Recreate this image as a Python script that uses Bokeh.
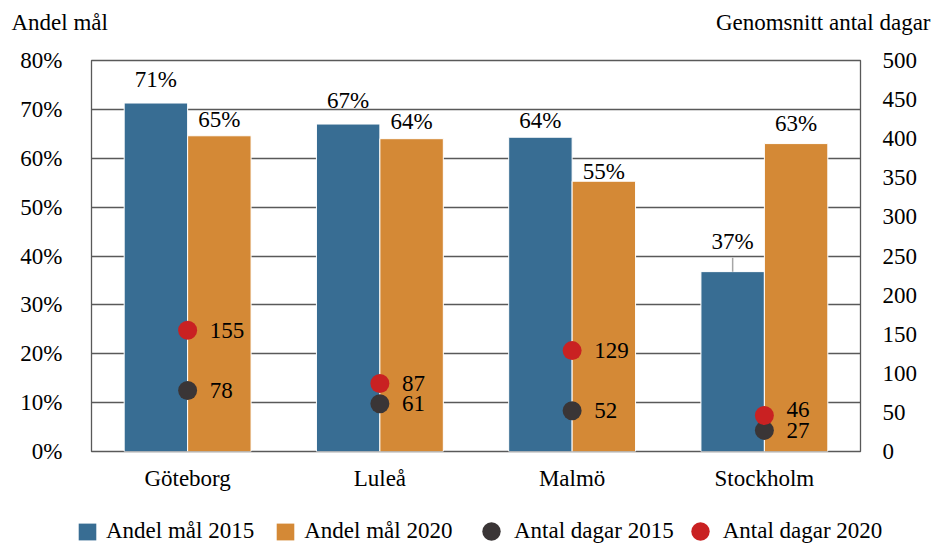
import math
from bokeh.plotting import figure
from bokeh.layouts import column
from bokeh.models import (ColumnDataSource, FactorRange, Range1d, LinearAxis, Legend, LegendItem,
                          Label, FixedTicker, PrintfTickFormatter, CDSView, IndexFilter)
from bokeh.transform import dodge
from bokeh.core.properties import value
from bokeh.embed import file_html
from bokeh.resources import INLINE

# ---- data ----
cities = ["Göteborg", "Luleå", "Malmö", "Stockholm"]
andel_2015 = [71.3, 67.0, 64.3, 36.8]
andel_2020 = [64.6, 64.0, 55.3, 63.0]
dagar_2015 = [78, 61, 52, 27]
dagar_2020 = [155, 87, 129, 46]
left_ticks = [0, 10, 20, 30, 40, 50, 60, 70, 80]
right_ticks = [0, 50, 100, 150, 200, 250, 300, 350, 400, 450, 500]
series_names = ["Andel mål 2015", "Andel mål 2020", "Antal dagar 2015", "Antal dagar 2020"]
left_title = "Andel mål"
right_title = "Genomsnitt antal dagar"

# ---- styles ----
FONT = "Liberation Serif"
FS = "23px"
BLUE = "#386d93"
ORANGE = "#d48936"
DARK = "#3a3536"
RED = "#c92122"
GRID = "#595959"
WIDTH = 935
label_dy_2015 = [-24, -24, -17, -30]
label_dy_2020 = [-16, -17, -10, -20]
day_dy_2015 = [0, 0, 0, 0]
day_dy_2020 = [0, 0, 0, -6]


def bare_figure(height):
    f = figure(width=WIDTH, height=height, x_range=Range1d(0, WIDTH), y_range=Range1d(0, height),
               output_backend="svg", toolbar_location=None, min_border=0,
               x_axis_location=None, y_axis_location=None, frame_align=False)
    f.grid.visible = False
    f.outline_line_color = None
    f.background_fill_color = "white"
    f.border_fill_color = "white"
    return f


# ---- top strip: axis titles ----
top = bare_figure(40)
top.add_layout(Label(x=11, y=18.5, x_units="screen", y_units="screen", text=left_title,
                     text_font=FONT, text_font_size=FS, text_color="black",
                     text_align="left", text_baseline="alphabetic"))
top.add_layout(Label(x=930, y=18.5, x_units="screen", y_units="screen", text=right_title,
                     text_font=FONT, text_font_size=FS, text_color="black",
                     text_align="right", text_baseline="alphabetic"))

# ---- main chart ----
src = ColumnDataSource(dict(
    city=cities,
    a15=andel_2015, a20=andel_2020,
    d15=dagar_2015, d20=dagar_2020,
    l15=[f"{round(v)}%" for v in andel_2015],
    l20=[f"{round(v)}%" for v in andel_2020],
    dl15=[str(v) for v in dagar_2015],
    dl20=[str(v) for v in dagar_2020],
    o15=label_dy_2015, o20=label_dy_2020,
    do15=day_dy_2015, do20=day_dy_2020,
))

p = figure(x_range=FactorRange(factors=cities), y_range=Range1d(left_ticks[0], left_ticks[-1]),
           width=WIDTH, height=460, output_backend="svg", toolbar_location=None,
           min_border_left=91, min_border_right=75, min_border_top=20, min_border_bottom=49,
           frame_align=False)
p.extra_y_ranges = {"days": Range1d(right_ticks[0], right_ticks[-1])}
p.background_fill_color = "white"
p.border_fill_color = "white"
p.outline_line_color = GRID
p.outline_line_width = 1.3

p.xgrid.grid_line_color = None
p.ygrid.ticker = FixedTicker(ticks=left_ticks)
p.ygrid.grid_line_color = GRID
p.ygrid.grid_line_width = 1.3

right_axis = LinearAxis(y_range_name="days", ticker=FixedTicker(ticks=right_ticks))
p.add_layout(right_axis, "right")

p.yaxis[0].ticker = FixedTicker(ticks=left_ticks)
p.yaxis[0].formatter = PrintfTickFormatter(format="%d%%")

for ax in p.axis:
    ax.axis_line_color = None
    ax.major_tick_line_color = None
    ax.minor_tick_line_color = None
    ax.major_label_text_font = FONT
    ax.major_label_text_font_size = FS
    ax.major_label_text_color = "black"
p.yaxis[0].major_label_standoff = 23
right_axis.major_label_standoff = 16
p.xaxis.major_label_standoff = 8

W = 0.33
p.vbar(x=dodge("city", -W / 2, range=p.x_range), top="a15", width=W, source=src,
       fill_color=BLUE, line_color="white", line_width=1)
p.vbar(x=dodge("city", W / 2, range=p.x_range), top="a20", width=W, source=src,
       fill_color=ORANGE, line_color="white", line_width=1)

# leader line for the moved label (Stockholm 2015)
p.ray(x=dodge("city", -W / 2, range=p.x_range), y="a15", length=14, length_units="screen",
      angle=math.pi / 2, source=src, view=CDSView(filter=IndexFilter([3])),
      line_color="#a6a6a6", line_width=1.5)

common = dict(text_font=value(FONT), text_font_size=value(FS), text_color="black",
              text_baseline="middle", source=src)
p.text(x=dodge("city", -W / 2, range=p.x_range), y="a15", text="l15", y_offset="o15",
       text_align="center", **common)
p.text(x=dodge("city", W / 2, range=p.x_range), y="a20", text="l20", y_offset="o20",
       text_align="center", **common)

p.scatter(x="city", y="d15", y_range_name="days", size=19, marker="circle",
          fill_color=DARK, line_color=None, source=src)
p.scatter(x="city", y="d20", y_range_name="days", size=19, marker="circle",
          fill_color=RED, line_color=None, source=src)
p.text(x="city", y="d15", text="dl15", x_offset=22, y_offset="do15", y_range_name="days",
       text_align="left", **common)
p.text(x="city", y="d20", text="dl20", x_offset=22, y_offset="do20", y_range_name="days",
       text_align="left", **common)

# ---- bottom strip: legend (key glyphs are zero-size, off-range placeholders) ----
leg = bare_figure(44)
key = dict(x=[-50], top=[0], bottom=[0], width=0)
g1 = leg.vbar(**key, fill_color=BLUE, line_color=None)
g2 = leg.vbar(**key, fill_color=ORANGE, line_color=None)
g3 = leg.scatter(x=[-50], y=[-50], size=0, marker="circle", fill_color=DARK, line_color=None)
g4 = leg.scatter(x=[-50], y=[-50], size=0, marker="circle", fill_color=RED, line_color=None)
leg_style = dict(orientation="horizontal", label_text_font=FONT, label_text_font_size=FS,
                 label_text_color="black", padding=0, margin=0, border_line_color=None,
                 background_fill_alpha=0)
legend_bars = Legend(items=[LegendItem(label=series_names[0], renderers=[g1]),
                            LegendItem(label=series_names[1], renderers=[g2])],
                     location=(76, 0), glyph_width=22, glyph_height=21, label_standoff=8,
                     spacing=20, **leg_style)
legend_dots = Legend(items=[LegendItem(label=series_names[2], renderers=[g3]),
                            LegendItem(label=series_names[3], renderers=[g4])],
                     location=(468, -10), glyph_width=46, glyph_height=46, label_standoff=0,
                     spacing=3, **leg_style)
leg.add_layout(legend_bars, "center")
leg.add_layout(legend_dots, "center")

layout = column(top, p, leg, spacing=0)
open("out.html", "w").write(file_html(layout, INLINE))
